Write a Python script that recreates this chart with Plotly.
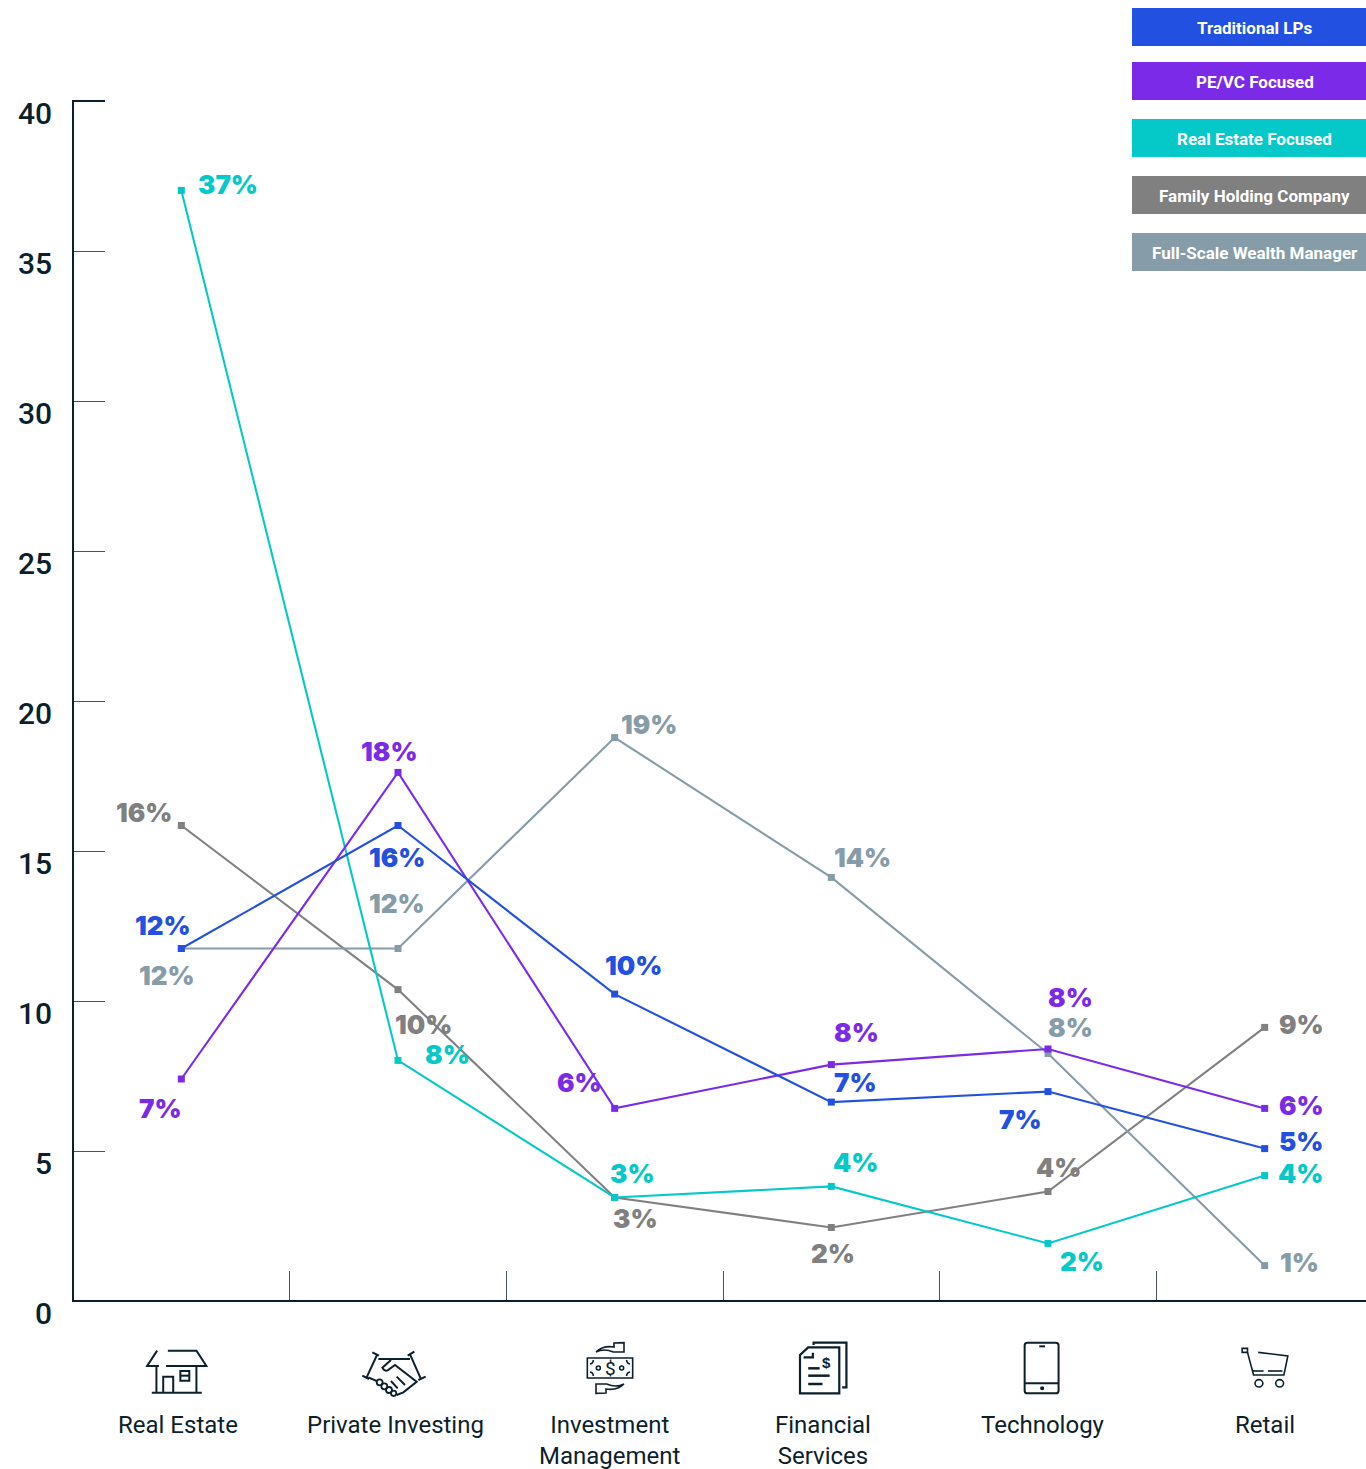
import re
import plotly.graph_objects as go

categories = ["Real Estate", "Private Investing", "Investment<br>Management", "Financial<br>Services", "Technology", "Retail"]
x_index = [0, 1, 2, 3, 4, 5]
y_ticks = [0, 5, 10, 15, 20, 25, 30, 35, 40]
band_edges = [0.5, 1.5, 2.5, 3.5, 4.5]

traditional_lps = [11.75, 15.85, 10.23, 6.63, 6.98, 5.08]
pe_vc_focused = [7.4, 17.62, 6.42, 7.88, 8.4, 6.42]
real_estate_focused = [37.02, 8.02, 3.45, 3.82, 1.92, 4.18]
family_holding = [15.85, 10.38, 3.45, 2.45, 3.65, 9.12]
wealth_manager = [11.75, 11.75, 18.78, 14.12, 8.25, 1.18]

traditional_labels = ["12%", "16%", "10%", "7%", "7%", "5%"]
pe_vc_labels = ["7%", "18%", "6%", "8%", "8%", "6%"]
real_estate_labels = ["37%", "8%", "3%", "4%", "2%", "4%"]
family_labels = ["16%", "10%", "3%", "2%", "4%", "9%"]
wealth_labels = ["12%", "12%", "19%", "14%", "8%", "1%"]

BLUE, PURPLE, TEAL, GRAY, SLATE = "#2250E0", "#7B2BE8", "#05C8C8", "#808080", "#869CA8"
INK = "#0C1F2C"
TICK = "#44535E"
W, H, L, T, B = 1366, 1469, 73, 101, 1301

# label offsets from their point, in pixels (right, down)
series = [
    ("Family Holding Company", family_holding, family_labels, GRAY,
     [(-37, -13), (25, 35), (21, 21), (2, 26), (10, -24), (37, -3)]),
    ("Full-Scale Wealth Manager", wealth_manager, wealth_labels, SLATE,
     [(-14, 27), (-1, -45), (34, -13), (31, -20), (22, -26), (35, -3)]),
    ("Real Estate Focused", real_estate_focused, real_estate_labels, TEAL,
     [(47, -6), (49, -6), (18, -24), (24, -24), (34, 18), (36, -2)]),
    ("PE/VC Focused", pe_vc_focused, pe_vc_labels, PURPLE,
     [(-21, 29), (-9, -21), (-35, -26), (25, -32), (22, -52), (37, -3)]),
    ("Traditional LPs", traditional_lps, traditional_labels, BLUE,
     [(-18, -23), (-1, 32), (19, -29), (24, -20), (-28, 28), (36, -7)]),
]
legend_order = [("Traditional LPs", BLUE, 8), ("PE/VC Focused", PURPLE, 62),
                ("Real Estate Focused", TEAL, 119), ("Family Holding Company", GRAY, 176),
                ("Full-Scale Wealth Manager", SLATE, 233)]
label_centres = [-3, -3, -5, -8, -5, 0]

fig = go.Figure()
annotations, shapes = [], []

for name, values, labels, color, offsets in series:
    fig.add_trace(go.Scatter(
        x=x_index, y=values, name=name, mode="lines+markers", cliponaxis=False,
        line=dict(color=color, width=2.1),
        marker=dict(symbol="square", size=7, color=color, line=dict(width=0)),
        hoverinfo="skip", showlegend=False))
    for xi, v, lab, (dx, dy) in zip(x_index, values, labels, offsets):
        annotations.append(dict(
            x=xi, y=v, xref="x", yref="y", text=lab, showarrow=False,
            xanchor="center", yanchor="middle", xshift=dx, yshift=-dy,
            font=dict(family="Inter", size=26, color=color, weight=900)))

PW, PH = W - L, B - T
def fx(px): return (px - L) / PW
def fy(py): return (B - py) / PH

# axis lines and the top end cap of the value axis
axis_line = dict(color=INK, width=2)
shapes.append(dict(type="line", xref="paper", yref="paper", x0=0, x1=0, y0=fy(B + 1), y1=fy(T - 1), line=axis_line))
shapes.append(dict(type="line", xref="paper", yref="paper", x0=fx(L - 1), x1=1, y0=0, y1=0, line=axis_line))
shapes.append(dict(type="line", xref="paper", yref="paper", x0=0, x1=fx(105), y0=1, y1=1, line=axis_line))

# legend boxes
for name, color, top in legend_order:
    shapes.append(dict(type="rect", xref="paper", yref="paper", x0=fx(1132), x1=fx(1366),
                       y0=fy(top + 38), y1=fy(top), fillcolor=color, line=dict(width=0)))
    annotations.append(dict(x=fx(1254.5), y=fy(top + 20), xref="paper", yref="paper", text=name,
                            showarrow=False, xanchor="center", yanchor="middle",
                            font=dict(family="Roboto", size=17, color="white", weight=700)))

# category labels
for xi, cat, dx in zip(x_index, categories, label_centres):
    annotations.append(dict(x=xi, y=fy(1409), xref="x", yref="paper", text=cat, showarrow=False,
                            xanchor="center", yanchor="top", xshift=dx, align="center",
                            font=dict(family="Roboto", size=24, color=INK)))

# icons (decorative line drawings, in crop coordinates)
def icon(paths, ox, oy, width=2.0, circles=(), sx=2.8, sy=3.0):
    def conv(m):
        return f"{fx(ox + float(m.group(1)) / sx):.6f},{fy(oy + float(m.group(2)) / sy):.6f}"
    for p in paths:
        shapes.append(dict(type="path", xref="paper", yref="paper",
                           path=re.sub(r"(-?[\d.]+),(-?[\d.]+)", conv, p),
                           line=dict(color=INK, width=width), fillcolor="rgba(0,0,0,0)"))
    for cx, cy, r, fill in circles:
        shapes.append(dict(type="circle", xref="paper", yref="paper",
                           x0=fx(ox + (cx - r) / sx), x1=fx(ox + (cx + r) / sx),
                           y0=fy(oy + (cy + r) / sy), y1=fy(oy + (cy - r) / sy),
                           line=dict(color=INK, width=width), fillcolor=INK if fill else "rgba(0,0,0,0)"))

def icon_text(ox, oy, cx, cy, text, size, family, sx=2.8, sy=3.0):
    annotations.append(dict(x=fx(ox + cx / sx), y=fy(oy + cy / sy), xref="paper", yref="paper", text=text,
                            showarrow=False, xanchor="center", yanchor="middle",
                            font=dict(family=family, size=size, color=INK)))

# house
icon(["M190,62 L270,62 L298,108 L185,108", "M160,62 L132,108 L165,108",
      "M158,108 L158,188", "M270,108 L270,188", "M145,188 L285,188",
      "M177,188 L177,140 L205,140 L205,188", "M225,123 L250,123 L250,152 L225,152 Z", "M225,137 L250,137"],
     100, 1330)
# handshake
icon(["M52,22 L72,32", "M66,30 L35,97", "M22,92 L42,102",
      "M178,20 L158,32", "M165,28 L197,100", "M212,95 L190,105",
      "M70,42 L165,42",
      "M108,45 L82,68 Q88,80 98,76 L120,60 L185,110 L145,142 L125,150",
      "M40,97 L65,108", "M108,108 L128,130", "M125,95 L150,120"],
     355, 1345, width=2.0, sx=3, sy=3)
icon([], 355, 1345, width=1.8, sx=3, sy=3,
     circles=[(74, 112, 9, False), (88, 124, 9, False), (102, 135, 9, False), (116, 145, 8, False)])
# money
icon(["M22,60 L158,60 L158,120 L22,120 Z",
      "M30,78 Q40,76 40,66", "M140,66 Q140,76 150,78",
      "M30,102 Q40,104 40,114", "M140,114 Q140,104 150,102",
      "M48,42 Q68,22 102,27 L102,15 L132,14 L132,42 L100,42 Q72,30 48,42",
      "M132,138 Q112,158 78,153 L78,165 L48,166 L48,138 L80,138 Q108,150 132,138"],
     580, 1338, width=1.6, sx=3, sy=3, circles=[(55, 90, 6, False), (125, 90, 6, False)])
icon_text(580, 1338, 90, 90, "$", 19, "Roboto", sx=3, sy=3)
# documents
icon(["M135,52 L222,52 L222,190 L112,190 L112,75 Z", "M148,68 L148,82 L122,82",
      "M150,45 L150,38 L242,38 L242,172 L230,172"],
     760, 1330, width=2.2)
icon(["M135,115 L167,115", "M135,137 L195,137", "M135,162 L175,162"], 760, 1330, width=2.5)
icon_text(760, 1330, 187, 96, "<b>$</b>", 15, "Liberation Sans")
# phone
icon(["M749,38 L828,38 Q836,38 836,46 L836,182 Q836,190 828,190 L749,190 Q741,190 741,182 L741,46 Q741,38 749,38 Z",
      "M741,160 L836,160", "M782,49 L798,49"],
     760, 1330, width=2.0, circles=[(790, 175, 3, True)])
# cart
icon(["M1350,55 L1365,55 L1365,67 L1350,67 Z", "M1365,67 L1382,135 L1467,135 L1478,78 L1395,67",
      "M1380,123 L1410,123", "M1422,123 L1463,123"],
     760, 1330, width=1.6, circles=[(1397, 160, 11, False), (1455, 160, 11, False)])

fig.update_layout(
    width=W, height=H, margin=dict(l=L, r=0, t=T, b=H - B), autosize=False,
    paper_bgcolor="white", plot_bgcolor="white", showlegend=False,
    annotations=annotations, shapes=shapes,
    xaxis=dict(range=[-0.5, 5.5 - 7 / 216.67], tickvals=x_index, ticktext=[""] * 6, ticks="",
               showgrid=False, zeroline=False, showline=False,
               minor=dict(ticks="inside", ticklen=30, tickwidth=1, tickcolor=TICK,
                          tickmode="array", tickvals=band_edges, showgrid=False)),
    yaxis=dict(range=[0, 40], tickvals=y_ticks, ticks="inside", ticklen=32, tickwidth=1, tickcolor=TICK,
               showgrid=False, zeroline=False, showline=False,
               ticklabelstandoff=20, ticklabelshift=12,
               tickfont=dict(family="Roboto", size=30, color=INK, weight=500)),
)

fig.write_html("out.html", config={"displayModeBar": False},
               post_script="document.body.style.margin='0';document.body.style.overflow='hidden';")
